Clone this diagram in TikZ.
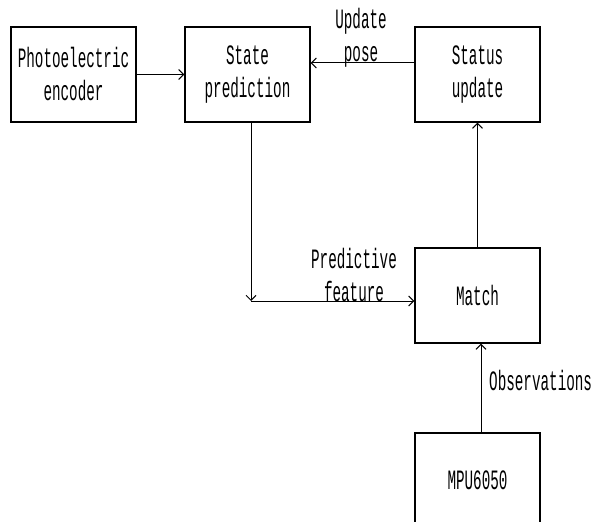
\documentclass[tikz,border=0pt]{standalone}
\usepackage{fontspec}
\newfontfamily\diagfam{Liberation Mono}[FakeStretch=0.51]
\usetikzlibrary{arrows.meta}
\newcommand\diagfont{\diagfam\fontsize{28}{33}\selectfont}
\tikzset{
  box/.style={draw, line width=1.2pt, minimum width=125pt, minimum height=95pt, inner sep=0pt, align=center, font=\diagfont},
  lbl/.style={align=center, font=\diagfont, inner sep=0pt},
  arr/.style={line width=1pt, -{Straight Barb[length=5pt,width=10pt]}},
}
\begin{document}
\begin{tikzpicture}[x=1pt,y=-1pt]
\useasboundingbox (0,0) rectangle (593,521);
\clip (0,0) rectangle (593,521);
\node[box] (enc) at (73.5,74.5) {Photoelectric\\encoder};
\node[box] (pred) at (247.5,74.5) {State\\prediction};
\node[box] (stat) at (477.5,74.5) {Status\\update};
\node[box] (match) at (477.5,295.5) {Match};
\node[box] (mpu) at (477.5,480.5) {MPU6050};
\coordinate (corner) at (251,301);
\draw[arr] (enc.east) -- (pred.west);
\draw[arr] ([yshift=11.5pt]stat.west) -- ([yshift=11.5pt]pred.east);
\draw[arr] ([xshift=3.5pt]pred.south) -- (corner);
\draw[arr] (corner) -- (match.west |- corner);
\draw[arr] (match.north) -- (stat.south);
\draw[arr] ([xshift=3.5pt]mpu.north) -- ([xshift=3.5pt]match.south);
\node[lbl] (up) at (361,38) {Update\\pose};
\node[lbl] (pf) at (354,275) {Predictive\\feature};
\node[lbl, anchor=west] (obs) at (489,380) {Observations};
\end{tikzpicture}
\end{document}
